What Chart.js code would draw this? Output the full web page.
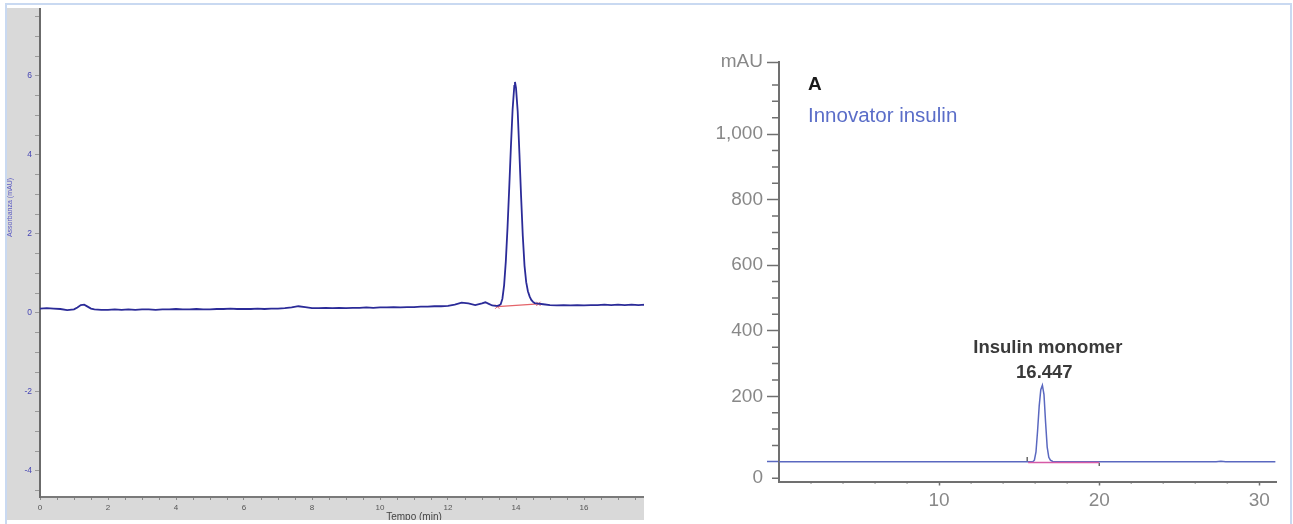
<!DOCTYPE html>
<html><head><meta charset="utf-8">
<script src="https://cdn.jsdelivr.net/npm/chart.js@4"></script>
<style>
html,body{margin:0;padding:0;background:#fff;width:1293px;height:524px;overflow:hidden;position:relative;}
#frame{position:absolute;left:5px;top:3px;width:1287px;height:530px;box-sizing:border-box;border:2px solid #c9d9f1;border-bottom:none;pointer-events:none;z-index:5;}
#leftClip{position:absolute;left:7px;top:8px;width:637px;height:512px;overflow:hidden;background:#d9d9d9;}
#leftCanvas{position:absolute;left:0;top:-108px;}
#rightCanvas{position:absolute;left:650px;top:0;}
</style></head><body>
<div id="leftClip"><canvas id="leftCanvas" width="800" height="637"></canvas></div>
<canvas id="rightCanvas" width="640" height="524"></canvas>
<div id="frame"></div>
<script>
// ---------- LEFT PANEL DATA ----------
const leftXTitle = 'Tempo (min)';
const leftYTitle = 'Assorbanza (mAU)';
const leftTime = [
  0, 0.2, 0.4, 0.6, 0.8, 1.0, 1.1, 1.2, 1.3, 1.4,
  1.5, 1.6, 1.8, 2.0, 2.2, 2.4, 2.6, 2.8, 3.0, 3.2,
  3.4, 3.6, 3.8, 4.0, 4.2, 4.4, 4.6, 4.8, 5.0, 5.2,
  5.4, 5.6, 5.8, 6.0, 6.2, 6.4, 6.6, 6.8, 7.0, 7.2,
  7.4, 7.6, 7.8, 8.0, 8.2, 8.4, 8.6, 8.8, 9.0, 9.2,
  9.4, 9.6, 9.8, 10.0, 10.2, 10.4, 10.6, 10.8, 11.0, 11.2,
  11.4, 11.6, 11.8, 12.0, 12.2, 12.4, 12.6, 12.8, 13.0, 13.1,
  13.2, 13.3, 13.4, 13.45, 13.5, 13.55, 13.6, 13.65, 13.7, 13.75,
  13.8, 13.85, 13.9, 13.95, 13.97, 14.0, 14.05, 14.1, 14.15, 14.2,
  14.25, 14.3, 14.35, 14.4, 14.45, 14.5, 14.55, 14.6, 14.8, 15.0,
  15.2, 15.4, 15.6, 15.8, 16.0, 16.2, 16.4, 16.6, 16.8, 17.0,
  17.2, 17.4, 17.6, 17.8, 18.0
];
const leftSignal = [
  0.11, 0.12, 0.11, 0.10, 0.07, 0.09, 0.14, 0.20, 0.21, 0.16,
  0.11, 0.09, 0.08, 0.08, 0.09, 0.08, 0.09, 0.08, 0.09, 0.09,
  0.08, 0.09, 0.09, 0.10, 0.09, 0.09, 0.10, 0.09, 0.09, 0.10,
  0.10, 0.11, 0.10, 0.10, 0.10, 0.11, 0.10, 0.11, 0.11, 0.12,
  0.14, 0.17, 0.15, 0.12, 0.12, 0.13, 0.12, 0.13, 0.12, 0.13,
  0.13, 0.14, 0.13, 0.14, 0.14, 0.15, 0.14, 0.15, 0.15, 0.16,
  0.16, 0.17, 0.17, 0.18, 0.21, 0.26, 0.24, 0.20, 0.24, 0.27,
  0.23, 0.19, 0.18, 0.18, 0.19, 0.22, 0.36, 0.70, 1.30, 2.15,
  3.15, 4.20, 5.15, 5.75, 5.85, 5.70, 5.10, 4.05, 2.95, 1.95,
  1.20, 0.78, 0.55, 0.42, 0.33, 0.28, 0.25, 0.24, 0.22, 0.20,
  0.19, 0.20, 0.19, 0.20, 0.19, 0.20, 0.20, 0.21, 0.20, 0.21,
  0.20, 0.21, 0.20, 0.21, 0.20
];
const leftBaseTime = [13.45, 14.66];
const leftBaseValue = [0.16, 0.23];
const leftXRange = [0, 22];
const leftYRange = [-4.66, 10];
const leftTickStep = 0.5;
const leftLabelEvery = 2;

// ---------- RIGHT PANEL DATA ----------
const rightLetter = 'A';
const rightSample = 'Innovator insulin';
const peakName = 'Insulin monomer';
const peakTime = 16.447;
const peakHeight = 234;
const rightTime =   [0, 15.85, 15.95, 16.05, 16.15, 16.25, 16.35, 16.45, 16.55, 16.65, 16.75, 16.85, 16.95, 17.1, 17.3, 27.3, 27.6, 27.9, 31];
const rightSignal = [0, 0,     5,     30,    95,    170,   220,   234,   205,   120,   45,    14,    5,     1,    0,    0,    2,    0,    0];
const rightBaseTime = [15.56, 20];
const rightBaseValue = [-2, -2];
const markStartTime = [15.5, 15.5];
const markStartValue = [0, 15];
const markEndTime = [20, 20];
const markEndValue = [-3, -13];
const rightXRange = [0, 31.04];
const rightYRange = [-60, 1220];
const rightXTickValues = [10, 20, 30];
const rightXMinorValues = [2, 4, 6, 8, 12, 14, 16, 18, 22, 24, 26, 28];
const rightYTickValues = [-50, 0, 200, 400, 600, 800, 1000, 1220];
const rightYTickLabels = ['0', '', '200', '400', '600', '800', '1,000', 'mAU'];
const rightYMinorValues = [-50, 50, 100, 150, 250, 300, 350, 450, 500, 550, 650, 700, 750, 850, 900, 950, 1050, 1100, 1150];

const pts = (xs, ys) => xs.map((x, i) => ({x: x, y: ys[i]}));
const SANS = '"Liberation Sans", Arial, sans-serif';

// white plot area for left panel
const whiteArea = {
  id: 'whiteArea',
  beforeDraw(chart) {
    const {ctx, chartArea: a} = chart;
    ctx.save(); ctx.fillStyle = '#ffffff';
    ctx.fillRect(a.left, a.top, a.right - a.left, a.bottom - a.top);
    ctx.restore();
  }
};

// minor tick marks drawn from scale positions
const minorTicks = {
  id: 'minorTicks',
  afterDraw(chart, args, opts) {
    const ctx = chart.ctx;
    (opts.items || []).forEach(item => {
      const s = chart.scales[item.axis];
      ctx.save(); ctx.strokeStyle = item.color; ctx.lineWidth = item.width;
      ctx.beginPath();
      item.values.forEach(v => {
        const p = s.getPixelForValue(v);
        if (s.isHorizontal()) { ctx.moveTo(p, s.top); ctx.lineTo(p, s.top + item.length); }
        else { ctx.moveTo(s.right - item.length, p); ctx.lineTo(s.right, p); }
      });
      ctx.stroke(); ctx.restore();
    });
  }
};

// text annotations of the right panel
const annotations = {
  id: 'annotations',
  afterDraw(chart) {
    const {ctx, chartArea: a, scales: {x, y}} = chart;
    ctx.save();
    ctx.textBaseline = 'alphabetic';
    ctx.textAlign = 'left';
    ctx.fillStyle = '#1a1a1a';
    ctx.font = 'bold 19px ' + SANS;
    ctx.fillText(rightLetter, a.left + 29, a.top + 28.3);
    ctx.fillStyle = '#5a6dc8';
    ctx.font = '20.5px ' + SANS;
    ctx.fillText(rightSample, a.left + 29, a.top + 60.3);
    const px = x.getPixelForValue(peakTime);
    const py = y.getPixelForValue(peakHeight);
    ctx.textAlign = 'center';
    ctx.fillStyle = '#3a3a3a';
    ctx.font = 'bold 18.5px ' + SANS;
    ctx.fillText(peakTime.toFixed(3), px + 2, py - 7);
    ctx.fillText(peakName, px + 5.5, py - 32);
    ctx.restore();
  }
};

// ---------- LEFT CHART ----------
new Chart(document.getElementById('leftCanvas'), {
  type: 'line',
  data: {
    datasets: [
      {data: pts(leftTime, leftSignal), borderColor: '#2b2b98', borderWidth: 1.8, pointRadius: 0, tension: 0},
      {data: pts(leftBaseTime, leftBaseValue), borderColor: '#e4646a', borderWidth: 1.3, pointRadius: 3,
       pointStyle: 'cross', pointRotation: 45, pointBorderColor: '#e4646a', pointBorderWidth: 1, tension: 0}
    ]
  },
  options: {
    responsive: false, animation: false, events: [],
    layout: {padding: {top: 18, right: 19, left: 0, bottom: 0}},
    plugins: {legend: {display: false}, tooltip: {enabled: false}},
    scales: {
      x: {
        type: 'linear', min: leftXRange[0], max: leftXRange[1],
        afterBuildTicks: s => { const t = []; for (let v = leftXRange[0]; v <= leftXRange[1] + 1e-9; v += leftTickStep) t.push({value: v}); s.ticks = t; },
        afterFit: s => { s.height = 40; },
        border: {color: '#7a7a7a', width: 2},
        grid: {drawOnChartArea: false, tickLength: 3, color: '#8a8a8a'},
        ticks: {autoSkip: false, maxRotation: 0, padding: 3, color: '#555', font: {family: SANS, size: 8},
                callback: v => (Math.abs(v % leftLabelEvery) < 1e-9 ? String(v) : '')},
        title: {display: true, text: leftXTitle, color: '#444', font: {family: SANS, size: 10}, padding: {top: 0, bottom: 14}}
      },
      y: {
        type: 'linear', min: leftYRange[0], max: leftYRange[1],
        afterBuildTicks: s => { const t = []; for (let k = -9; k <= 20; k++) t.push({value: k * leftTickStep}); s.ticks = t; },
        afterFit: s => { s.width = 33; },
        border: {color: '#6b6b6b', width: 2},
        grid: {drawOnChartArea: false, tickLength: 5, color: '#9a9a9a'},
        ticks: {autoSkip: false, padding: 3, color: '#4646b4', font: {family: SANS, size: 8.5},
                callback: v => (Math.abs(v % leftLabelEvery) < 1e-9 ? String(v) : '')},
        title: {display: true, text: leftYTitle, color: '#5a5ac4', font: {family: SANS, size: 7, lineHeight: 0.9}, padding: 0}
      }
    }
  },
  plugins: [whiteArea]
});

// ---------- RIGHT CHART ----------
const axisGray = '#707070';
const traceBlue = '#5a68c0';
new Chart(document.getElementById('rightCanvas'), {
  type: 'line',
  data: {
    datasets: [
      {data: pts(rightBaseTime, rightBaseValue), borderColor: '#d65aa6', borderWidth: 1.5, pointRadius: 0, tension: 0},
      {data: pts(rightTime, rightSignal), borderColor: traceBlue, borderWidth: 1.5, pointRadius: 0, tension: 0},
      {data: pts(markStartTime, markStartValue), borderColor: '#444', borderWidth: 1.2, pointRadius: 0},
      {data: pts(markEndTime, markEndValue), borderColor: '#444', borderWidth: 1.2, pointRadius: 0}
    ]
  },
  options: {
    responsive: false, animation: false, events: [],
    layout: {padding: {top: 62, right: 14, left: 0, bottom: 0}},
    plugins: {
      legend: {display: false}, tooltip: {enabled: false},
      minorTicks: {items: [
        {axis: 'x', values: rightXMinorValues, length: 2, color: axisGray, width: 1.5},
        {axis: 'y', values: rightYMinorValues, length: 7, color: axisGray, width: 1.5}
      ]}
    },
    scales: {
      x: {
        type: 'linear', min: rightXRange[0], max: rightXRange[1],
        afterBuildTicks: s => { s.ticks = rightXTickValues.map(v => ({value: v})); },
        afterFit: s => { s.height = 42.5; },
        border: {color: axisGray, width: 2},
        grid: {drawOnChartArea: false, tickLength: 4, tickWidth: 1.5, color: axisGray},
        ticks: {autoSkip: false, maxRotation: 0, padding: 4, color: '#888', font: {family: SANS, size: 19}}
      },
      y: {
        type: 'linear', min: rightYRange[0], max: rightYRange[1],
        afterBuildTicks: s => { s.ticks = rightYTickValues.map(v => ({value: v})); },
        afterFit: s => { s.width = 129; },
        border: {color: axisGray, width: 2},
        grid: {drawOnChartArea: false, tickLength: 12, tickWidth: 1.5, color: axisGray,
               tickColor: c => (c.tick && c.tick.value === 0 ? traceBlue : (c.tick && c.tick.value === -50 ? 'rgba(0,0,0,0)' : axisGray))},
        ticks: {autoSkip: false, padding: 4, color: '#888', font: {family: SANS, size: 19},
                callback: v => { const i = rightYTickValues.indexOf(v); return i >= 0 ? rightYTickLabels[i] : ''; }}
      }
    }
  },
  plugins: [minorTicks, annotations]
});
</script>
</body></html>
